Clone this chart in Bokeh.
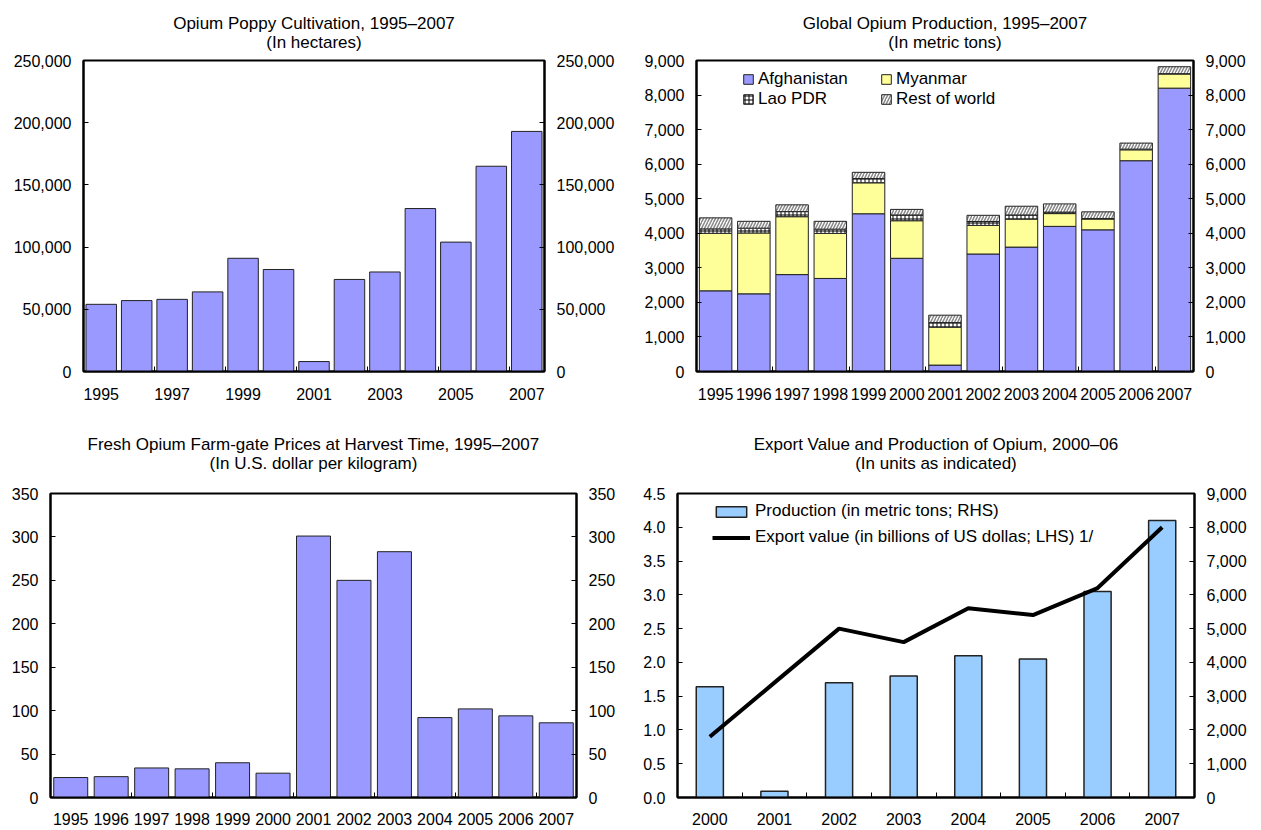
import numpy as np
from bokeh.plotting import figure
from bokeh.models import (Range1d, LinearAxis, FixedTicker, NumeralTickFormatter,
                          Title, Legend, LegendItem, ColumnDataSource)
from bokeh.layouts import column, row
from bokeh.embed import file_html
from bokeh.resources import INLINE

FONT = "Liberation Sans"

# ---------------- data ----------------
years = [str(y) for y in range(1995, 2008)]
cultivation_ha = [54000, 57000, 58000, 64000, 91000, 82000, 8000, 74000, 80000,
                  131000, 104000, 165000, 193000]

afghanistan_t = [2335, 2248, 2804, 2693, 4565, 3276, 185, 3400, 3600, 4200, 4100, 6100, 8200]
myanmar_t = [1664, 1760, 1676, 1303, 895, 1087, 1097, 828, 810, 370, 312, 315, 410]
lao_t = [128, 140, 147, 124, 124, 167, 134, 112, 120, 43, 14, 20, 10]
rest_t = [319, 198, 196, 226, 180, 161, 214, 180, 253, 237, 194, 175, 200]

price_usd_kg = [23, 24, 34, 33, 40, 28, 301, 250, 283, 92, 102, 94, 86]

exp_years = [str(y) for y in range(2000, 2008)]
production_t = [3276, 185, 3400, 3600, 4200, 4100, 6100, 8200]
export_bn = [0.9, 1.7, 2.5, 2.3, 2.8, 2.7, 3.1, 4.0]

BAR = "#9999FF"
YEL = "#FFFF99"
LBLUE = "#99CCFF"
EDGE = "#222222"


def style_axis(ax, ticker, fmt=None):
    ax.ticker = ticker
    if fmt is not None:
        ax.formatter = fmt
    ax.axis_line_color = "black"
    ax.axis_line_width = 2
    ax.major_tick_in = 5
    ax.major_tick_out = 0
    ax.major_tick_line_color = "black"
    ax.minor_tick_line_color = None
    ax.major_label_text_font = FONT
    ax.major_label_text_font_size = "16px"
    ax.major_label_text_color = "black"
    ax.major_label_standoff = 12


def make_fig(width, height, labels, ymax, step, fmt, borders, main, sub,
             title_standoff, label_every=1, minor_every=2, xlabel_standoff=16):
    n = len(labels)
    left, right, top, bottom = borders
    p = figure(width=width, height=height, x_range=Range1d(-0.5, n - 0.5),
               y_range=Range1d(0, ymax), output_backend="svg", toolbar_location=None,
               min_border_left=left, min_border_right=right, min_border_top=top,
               min_border_bottom=bottom, background_fill_color="white",
               border_fill_color="white")
    p.xgrid.visible = False
    p.ygrid.visible = False
    p.outline_line_color = "black"
    p.outline_line_width = 2
    p.outline_line_alpha = 1.0

    yt = list(np.arange(0, ymax + step / 2, step))
    style_axis(p.yaxis[0], FixedTicker(ticks=yt), NumeralTickFormatter(format=fmt))
    ra = LinearAxis()
    style_axis(ra, FixedTicker(ticks=yt), NumeralTickFormatter(format=fmt))
    p.add_layout(ra, "right")

    xa = p.xaxis[0]
    centers = list(range(0, n, label_every))
    bounds = [i + 0.5 for i in range(minor_every - 1, n - 1, minor_every)]
    xa.ticker = FixedTicker(ticks=centers, minor_ticks=bounds)
    xa.major_label_overrides = {i: labels[i] for i in centers}
    xa.axis_line_color = "black"
    xa.axis_line_width = 2
    xa.major_tick_line_color = None
    xa.major_tick_in = 0
    xa.major_tick_out = 0
    xa.minor_tick_line_color = "black"
    xa.minor_tick_in = 5
    xa.minor_tick_out = 0
    xa.major_label_text_font = FONT
    xa.major_label_text_font_size = "16px"
    xa.major_label_text_color = "black"
    xa.major_label_standoff = xlabel_standoff

    p.add_layout(Title(text=main + "\n" + sub, align="center", text_align="center",
                       text_font=FONT, text_font_size="17px",
                       text_font_style="normal", text_color="black",
                       standoff=title_standoff), "above")
    return p


# ---------------- top-left: cultivation ----------------
p1 = make_fig(630, 410, years, 250000, 50000, "0,0", (83, 86, 60, 39),
              "Opium Poppy Cultivation, 1995\u20132007", "(In hectares)", 18,
              label_every=2, minor_every=2)
src1 = ColumnDataSource(dict(x=list(range(len(years))), v=cultivation_ha))
p1.vbar(x="x", top="v", width=0.86, source=src1, fill_color=BAR,
        line_color=EDGE, line_width=1)

# ---------------- top-right: global production stacked ----------------
p2 = make_fig(631, 410, years, 9000, 1000, "0,0", (66, 68, 60, 39),
              "Global Opium Production, 1995\u20132007", "(In metric tons)", 18,
              label_every=1, minor_every=2)
a = np.array(afghanistan_t)
m = np.array(myanmar_t)
l = np.array(lao_t)
r = np.array(rest_t)
c1 = a
c2 = c1 + m
c3 = c2 + l
c4 = c3 + r
src2 = ColumnDataSource(dict(x=list(range(len(years))), z=[0] * len(years),
                             c1=list(c1), c2=list(c2), c3=list(c3), c4=list(c4)))
W2 = 0.85
r_afg = p2.vbar(x="x", bottom="z", top="c1", width=W2, source=src2,
                fill_color=BAR, line_color=EDGE, line_width=1)
r_mya = p2.vbar(x="x", bottom="c1", top="c2", width=W2, source=src2,
                fill_color=YEL, line_color=EDGE, line_width=1)
r_lao = p2.vbar(x="x", bottom="c2", top="c3", width=W2, source=src2,
                fill_color="white", line_color=EDGE, line_width=1,
                hatch_pattern="+", hatch_color="black", hatch_scale=4, hatch_weight=1)
r_row = p2.vbar(x="x", bottom="c3", top="c4", width=W2, source=src2,
                fill_color="white", line_color=EDGE, line_width=1,
                hatch_pattern="/", hatch_color="#888888", hatch_scale=6, hatch_weight=1.5)

for items, loc in (([("Afghanistan", r_afg), ("Lao PDR", r_lao)], (46, 262)),
                   ([("Myanmar", r_mya), ("Rest of world", r_row)], (184, 262))):
    lg = Legend(items=[LegendItem(label=t, renderers=[rr]) for t, rr in items],
                location=loc, orientation="vertical", padding=0, margin=0,
                spacing=-1, glyph_width=12, glyph_height=12, label_height=12,
                label_standoff=4, label_text_font=FONT, label_text_font_size="17px",
                label_text_color="black", background_fill_alpha=0,
                border_line_alpha=0)
    p2.add_layout(lg, "center")

# ---------------- bottom-left: prices ----------------
p3 = make_fig(630, 420, years, 350, 50, "0", (50, 54, 83, 33),
              "Fresh Opium Farm-gate Prices at Harvest Time, 1995\u20132007",
              "(In U.S. dollar per kilogram)", 42, label_every=1, minor_every=2,
              xlabel_standoff=15)
src3 = ColumnDataSource(dict(x=list(range(len(years))), v=price_usd_kg))
p3.vbar(x="x", top="v", width=0.84, source=src3, fill_color=BAR,
        line_color=EDGE, line_width=1)

# ---------------- bottom-right: export value & production ----------------
p4 = make_fig(631, 420, exp_years, 4.5, 0.5, "0.0", (47, 67, 83, 33),
              "Export Value and Production of Opium, 2000\u201306",
              "(In units as indicated)", 42, label_every=1, minor_every=1,
              xlabel_standoff=15)
p4.extra_y_ranges = {"prod": Range1d(0, 9000)}
p4.right[0].y_range_name = "prod"
p4.right[0].ticker = FixedTicker(ticks=list(range(0, 9001, 1000)))
p4.right[0].formatter = NumeralTickFormatter(format="0,0")
src4 = ColumnDataSource(dict(x=list(range(len(exp_years))), prod=production_t,
                             exp=export_bn))
r_prod = p4.vbar(x="x", top="prod", width=0.42, source=src4, y_range_name="prod",
                 fill_color=LBLUE, line_color=EDGE, line_width=1.5)
r_exp = p4.line(x="x", y="exp", source=src4, line_color="black", line_width=4)
lg4 = Legend(items=[LegendItem(label="Production (in metric tons; RHS)", renderers=[r_prod]),
                    LegendItem(label="Export value (in billions of US dollas; LHS) 1/",
                               renderers=[r_exp])],
             location=(35, 250), orientation="vertical", padding=0, margin=0,
             spacing=6, glyph_width=38, glyph_height=13, label_height=13,
             label_standoff=5, label_text_font=FONT, label_text_font_size="17px",
             label_text_color="black", background_fill_alpha=0, border_line_alpha=0)
p4.add_layout(lg4, "center")

layout = column(row(p1, p2), row(p3, p4))
open("out.html", "w").write(file_html(layout, INLINE))
